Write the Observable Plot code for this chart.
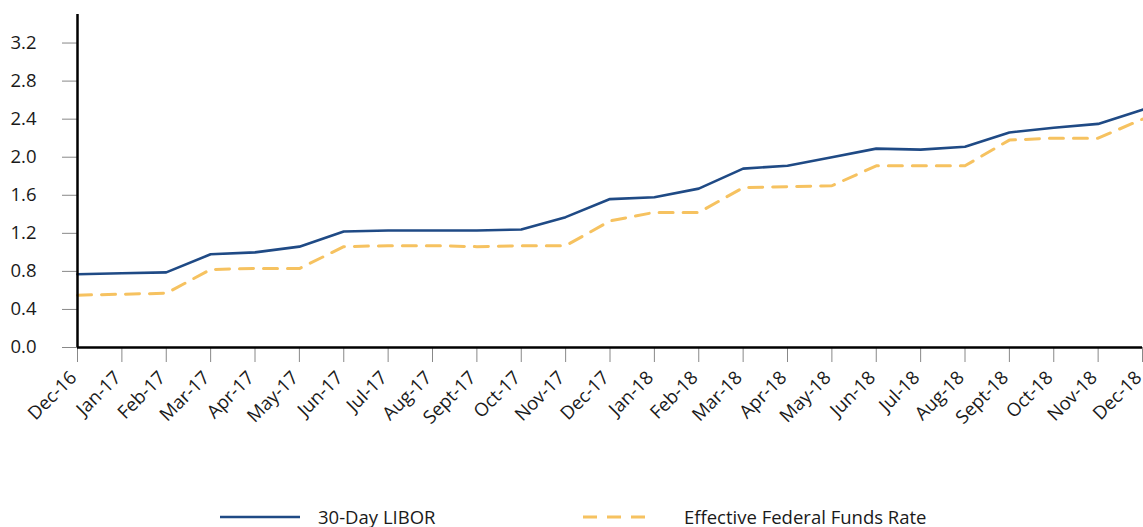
<!DOCTYPE html>
<html>
<head>
<meta charset="utf-8">
<script src="https://cdn.jsdelivr.net/npm/d3@7"></script>
<script src="https://cdn.jsdelivr.net/npm/@observablehq/plot@0.6"></script>
<style>
  html, body { margin: 0; padding: 0; background: #fff; }
  body { width: 1143px; height: 527px; overflow: hidden; font-family: "Open Sans", "Noto Sans", sans-serif; }
  #chart svg text { font-size: 18.5px !important; font-family: "Open Sans", "Noto Sans", sans-serif !important; }
  #legend { position: relative; height: 57px; font-size: 18.5px; color: #1a1a1a; }
  .item { position: absolute; top: 34px; display: flex; align-items: center; }
  .item svg { display: block; }
</style>
</head>
<body>
<div id="chart"></div>
<div id="legend"></div>
<script>
const months = ["Dec-16","Jan-17","Feb-17","Mar-17","Apr-17","May-17","Jun-17","Jul-17","Aug-17","Sept-17","Oct-17","Nov-17","Dec-17","Jan-18","Feb-18","Mar-18","Apr-18","May-18","Jun-18","Jul-18","Aug-18","Sept-18","Oct-18","Nov-18","Dec-18"];
const libor = [0.77,0.78,0.79,0.98,1.00,1.06,1.22,1.23,1.23,1.23,1.24,1.37,1.56,1.58,1.67,1.88,1.91,2.00,2.09,2.08,2.11,2.26,2.31,2.35,2.50];
const effr  = [0.55,0.56,0.57,0.82,0.83,0.83,1.06,1.07,1.07,1.06,1.07,1.07,1.33,1.42,1.42,1.68,1.69,1.70,1.91,1.91,1.91,2.18,2.20,2.20,2.40];
const yTicks = [0,0.4,0.8,1.2,1.6,2.0,2.4,2.8,3.2];
const seriesNames = ["30-Day LIBOR", "Effective Federal Funds Rate"];

const data = months.flatMap((m, i) => [
  {month: m, value: libor[i], series: seriesNames[0]},
  {month: m, value: effr[i], series: seriesNames[1]}
]);

const blue = "#1f4a85";
const gold = "#f6c260";

const chart = Plot.plot({
  width: 1143,
  height: 470,
  marginLeft: 77,
  marginRight: 1,
  marginTop: 14,
  marginBottom: 123,
  style: {fontFamily: "'Open Sans', 'Noto Sans', sans-serif", fontSize: "18px", color: "#1a1a1a", background: "#fff"},
  x: {type: "point", domain: months, padding: 0, round: false},
  y: {domain: [0, 3.5]},
  marks: [
    Plot.axisY({ticks: yTicks, tickFormat: d => d.toFixed(1), tickSize: 15, tickPadding: 26, stroke: "#888", fill: "#1a1a1a", label: null}),
    Plot.axisX({tickSize: 15, text: null, stroke: "#888", label: null}),
    Plot.axisX({tickRotate: -45, tickSize: 0, tickPadding: 27, dx: -4, fill: "#1a1a1a", label: null}),
    Plot.line(data.filter(d => d.series === seriesNames[1]), {x: "month", y: "value", stroke: gold, strokeWidth: 3, strokeDasharray: "14,10", strokeLinejoin: "round"}),
    Plot.line(data.filter(d => d.series === seriesNames[0]), {x: "month", y: "value", stroke: blue, strokeWidth: 2.6, strokeLinejoin: "round"}),
    Plot.ruleY([0], {stroke: "#000", strokeWidth: 2.5}),
    Plot.ruleX([months[0]], {y1: 0, y2: 3.5, stroke: "#000", strokeWidth: 2.5})
  ]
});
document.getElementById("chart").appendChild(chart);

const legend = document.getElementById("legend");
const items = [
  {name: seriesNames[0], left: 220, color: blue, dash: null, w: 80, gap: 18},
  {name: seriesNames[1], left: 583, color: gold, dash: "14,10", w: 70, gap: 31}
];
for (const it of items) {
  const div = document.createElement("div");
  div.className = "item";
  div.style.left = it.left + "px";
  div.innerHTML = `<svg width="${it.w}" height="10"><line x1="0" x2="${it.w}" y1="5" y2="5" stroke="${it.color}" stroke-width="${it.dash ? 3 : 2.6}" ${it.dash ? `stroke-dasharray="${it.dash}"` : ""}/></svg><span style="margin-left:${it.gap}px">${it.name}</span>`;
  legend.appendChild(div);
}
</script>
</body>
</html>
